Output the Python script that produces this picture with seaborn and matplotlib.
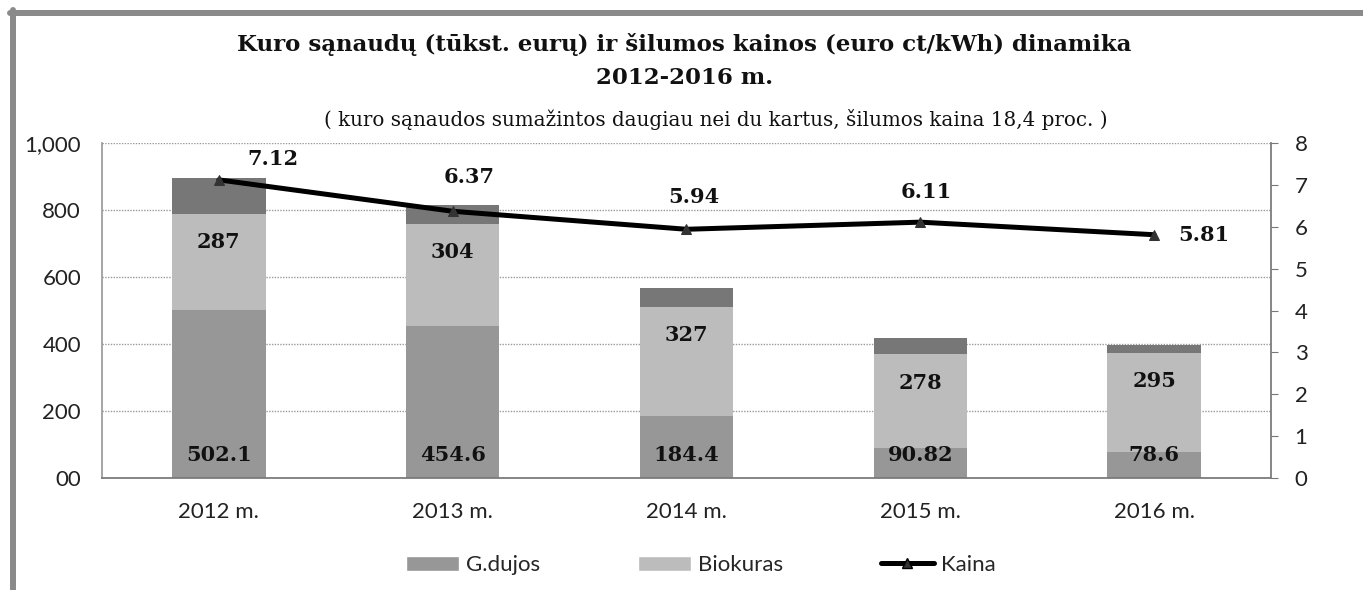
import numpy as np
import pandas as pd
import seaborn as sns
import matplotlib.pyplot as plt
from matplotlib.lines import Line2D
from matplotlib.patches import Patch

# data
years = ["2012 m.", "2013 m.", "2014 m.", "2015 m.", "2016 m."]
gas = [502.1, 454.6, 184.4, 90.82, 78.6]        # G.dujos
bio = [287, 304, 327, 278, 295]                 # Biokuras
other = [106, 56, 56, 49, 23]                   # small dark top segment (not in legend)
price = [7.12, 6.37, 5.94, 6.11, 5.81]          # Kaina
gas_labels = ["502.1", "454.6", "184.4", "90.82", "78.6"]
bio_labels = ["287", "304", "327", "278", "295"]
price_labels = ["7.12", "6.37", "5.94", "6.11", "5.81"]
left_ticks = [0, 200, 400, 600, 800, 1000]
left_ticklabels = ["00", "200", "400", "600", "800", "1,000"]
right_ticks = [0, 1, 2, 3, 4, 5, 6, 7, 8]

df = pd.DataFrame({"year": years, "gas": gas, "bio": bio, "other": other, "price": price})
df["gb"] = df["gas"] + df["bio"]

sns.set_theme(style="white")
plt.rcParams["font.family"] = ["Lato", "DejaVu Sans"]

c_gas, c_bio, c_top = "#979797", "#bcbcbc", "#777777"
serif = ["DejaVu Serif"]

fig = plt.figure(figsize=(13.63, 5.90), dpi=100)
ax = fig.add_axes([0.0748, 0.1898, 0.8577, 0.5678])

bar_kw = dict(width=0.4, ax=ax, saturation=1, linewidth=0)
sns.barplot(data=df, x="year", y="gas", color=c_gas, **bar_kw)
sns.barplot(data=df, x="year", y="bio", bottom=df["gas"], color=c_bio, **bar_kw)
sns.barplot(data=df, x="year", y="other", bottom=df["gb"], color=c_top, **bar_kw)

ax.set_ylim(0, 1000)
ax.set_xlim(-0.5, len(years) - 0.5)
ax.set_yticks(left_ticks)
ax.set_yticklabels(left_ticklabels)
ax.set_xlabel("")
ax.set_ylabel("")
ax.grid(axis="y", color="#9a9a9a", linestyle=(0, (1, 1)), linewidth=1.0)
ax.set_axisbelow(True)
for s in ["top", "right"]:
    ax.spines[s].set_visible(False)
ax.spines["left"].set_color("#9a9a9a")
ax.spines["left"].set_linestyle((0, (1, 1)))
ax.spines["bottom"].set_color("#777777")
ax.spines["bottom"].set_linestyle((0, (1, 1)))
ax.tick_params(axis="y", length=0, pad=15, labelsize=16, colors="#222222")
ax.tick_params(axis="x", length=0, pad=17, labelsize=16, colors="#222222")

# data labels on bars
for i in range(len(years)):
    ax.text(i, 68, gas_labels[i], ha="center", va="center", fontsize=15,
            fontweight="bold", family=serif, color="#111111")
    ax.text(i, df["gb"][i] - 85, bio_labels[i], ha="center", va="center", fontsize=15,
            fontweight="bold", family=serif, color="#111111")

# price line on right axis
ax2 = ax.twinx()
sns.lineplot(x=np.arange(len(years)), y=price, ax=ax2, color="black", linewidth=3.6,
             marker="^", markersize=7, markerfacecolor="#333333", markeredgecolor="#333333")
ax2.set_ylim(0, 8)
ax2.set_yticks(right_ticks)
ax2.set_xlim(-0.5, len(years) - 0.5)
for s in ["top", "left", "bottom"]:
    ax2.spines[s].set_visible(False)
ax2.spines["right"].set_color("#777777")
ax2.spines["right"].set_linestyle((0, (1, 1)))
ax2.tick_params(axis="y", length=5, width=0.8, color="#777777", pad=12, labelsize=16,
                colors="#222222")
ax2.grid(False)

offsets = [(39, 15), (12, 25), (5, 23), (4, 22), (36, 0)]
for i in range(len(years)):
    ax2.annotate(price_labels[i], (i, price[i]), xytext=offsets[i], textcoords="offset points",
                 ha="center", va="center", fontsize=15, fontweight="bold", family=serif,
                 color="#111111")

# titles
fig.text(0.502, 0.924, "Kuro sąnaudų (tūkst. eurų) ir šilumos kainos (euro ct/kWh) dinamika",
         ha="center", va="center", fontsize=16.5, fontweight="bold", family=serif, color="#111111")
fig.text(0.502, 0.868, "2012-2016 m.", ha="center", va="center", fontsize=16.5,
         fontweight="bold", family=serif, color="#111111")
fig.text(0.525, 0.798, "( kuro sąnaudos sumažintos daugiau nei du kartus, šilumos kaina 18,4 proc. )",
         ha="center", va="center", fontsize=14.3, family=serif, color="#111111")

# legend
handles = [Patch(facecolor=c_gas, label="G.dujos"),
           Patch(facecolor=c_bio, label="Biokuras"),
           Line2D([0], [0], color="black", linewidth=3.6, marker="^", markersize=7,
                  markerfacecolor="#333333", label="Kaina")]
fig.legend(handles=handles, loc="center", bbox_to_anchor=(0.514, 0.042), ncol=3,
           frameon=False, fontsize=16, columnspacing=4.4, handlelength=2.4, handletextpad=0.3)

# scanned page border
fig.add_artist(Line2D([10 / 1363, 1], [1 - 13 / 590, 1 - 13 / 590], color="#8a8a8a",
                      linewidth=4.3, transform=fig.transFigure))
fig.add_artist(Line2D([13 / 1363, 13 / 1363], [0, 1 - 10 / 590], color="#8a8a8a",
                      linewidth=4.3, transform=fig.transFigure))

fig.savefig("out.png", dpi=100)
